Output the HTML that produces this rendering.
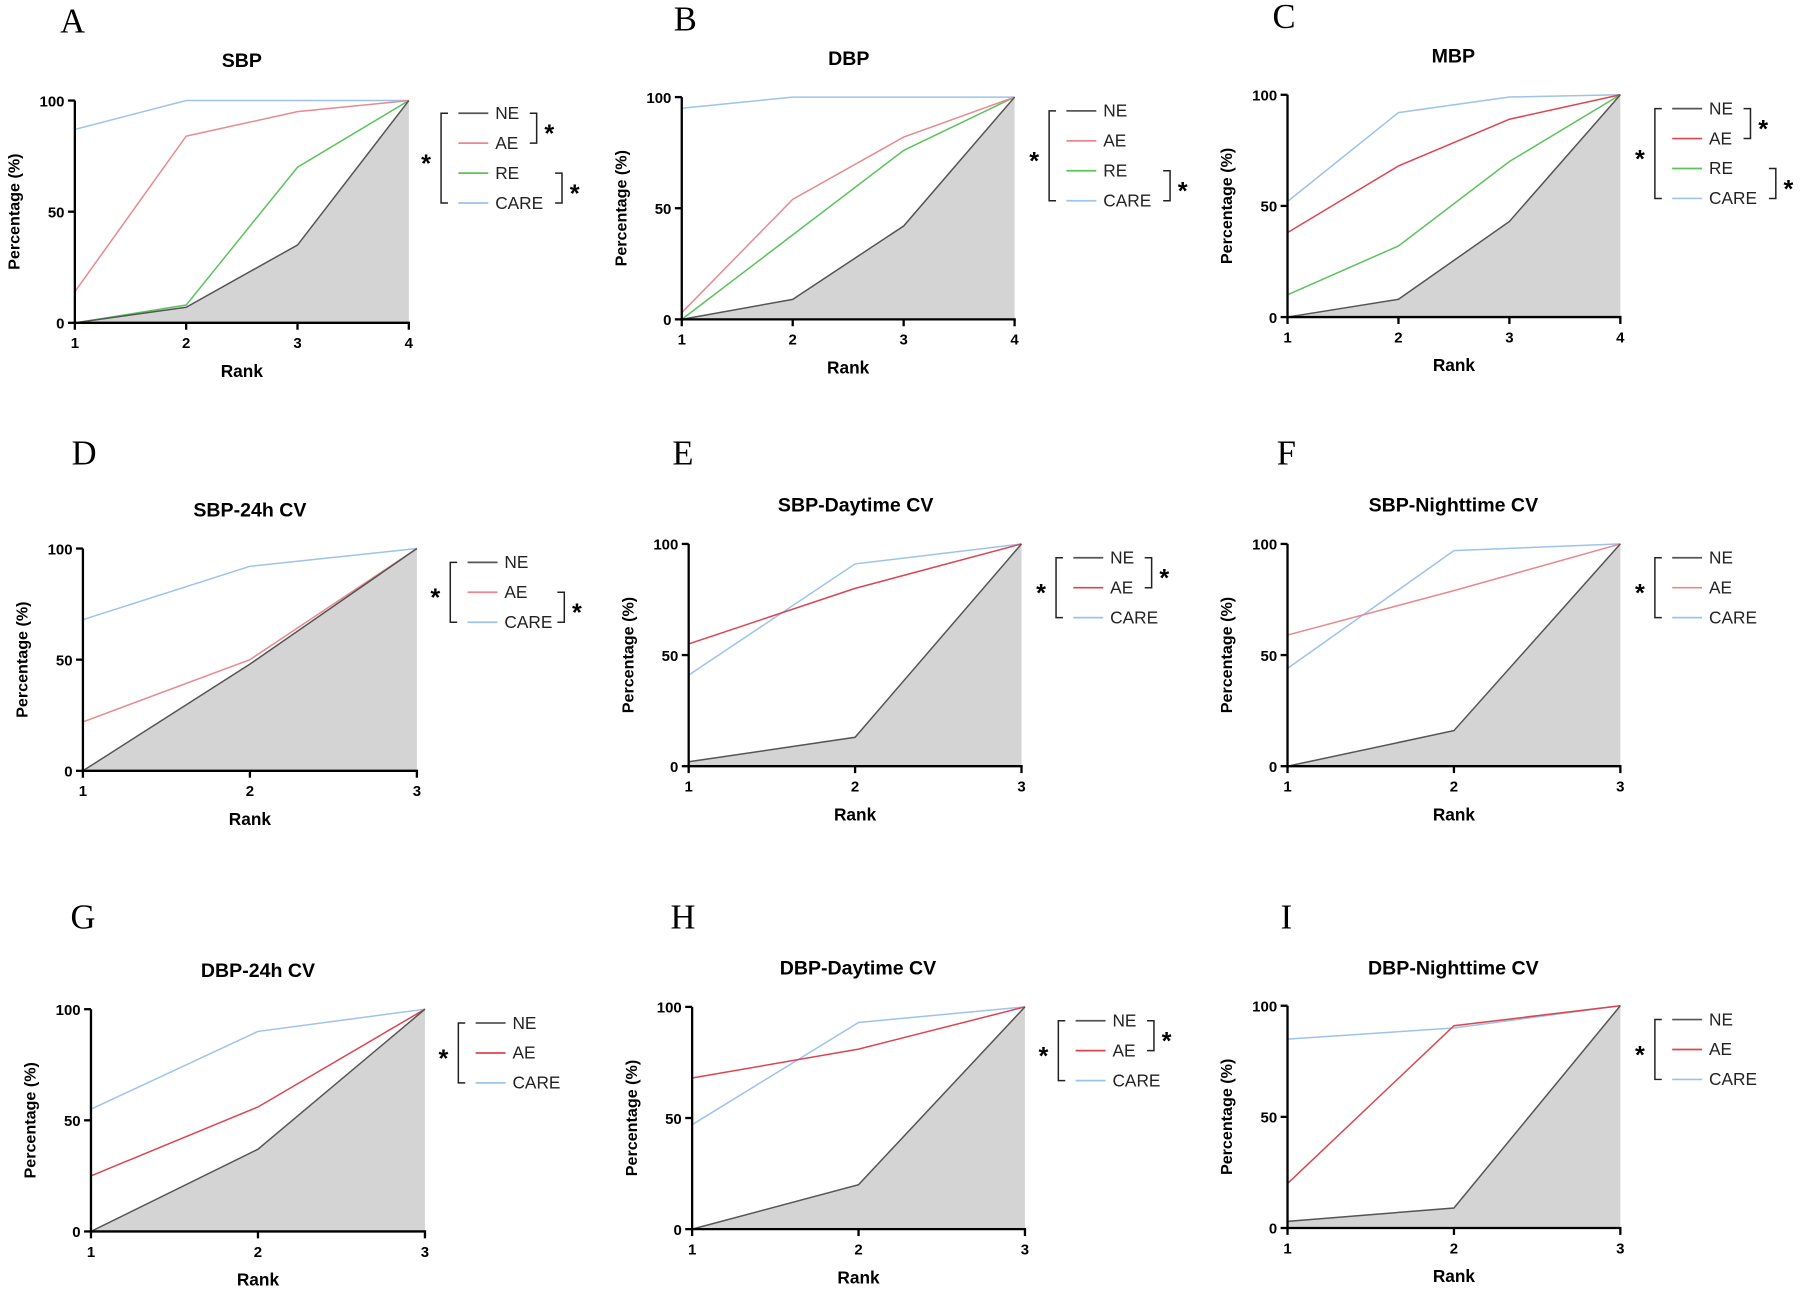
<!DOCTYPE html>
<html><head><meta charset="utf-8"><style>
html,body{margin:0;padding:0;background:#fff;}
svg{display:block;}
</style></head><body>
<svg id="s" width="1800" height="1294" viewBox="0 0 1563 1123" xmlns="http://www.w3.org/2000/svg" font-family="Liberation Sans, sans-serif"></svg>
<script>
var P=[
{L:"A",t:"SBP",x0:65,x1:355,y0:280,y1:87,lx:63,ly:18,tx:210,ty:52,gx:430,gy:98,
 s:[["NE",[0,7,35,100]],["AE",[14,84,95,100]],["RE",[0,8,70,100]],["CARE",[87,100,100,100]]],br:[[0,1],[2,3]],c:0},
{L:"B",t:"DBP",x0:592,x1:881,y0:277,y1:84,lx:595,ly:16,tx:737,ty:50,gx:958,gy:96,
 s:[["NE",[0,9,42,100]],["AE",[3,54,82,100]],["RE",[0,38,76,100]],["CARE",[95,100,100,100]]],br:[[2,3]],c:0},
{L:"C",t:"MBP",x0:1118,x1:1407,y0:275,y1:82,lx:1115,ly:14,tx:1262,ty:48,gx:1484,gy:94,
 s:[["NE",[0,8,43,100]],["AE",[38,68,89,100]],["RE",[10,32,70,100]],["CARE",[52,92,99,100]]],br:[[0,1],[2,3]],c:1},
{L:"D",t:"SBP-24h CV",x0:72,x1:362,y0:669,y1:476,lx:73,ly:393,tx:217,ty:442,gx:438,gy:488,
 s:[["NE",[0,48,100]],["AE",[22,50,100]],["CARE",[68,92,100]]],br:[[1,2]],c:0},
{L:"E",t:"SBP-Daytime CV",x0:598,x1:887,y0:665,y1:472,lx:593,ly:393,tx:743,ty:438,gx:964,gy:484,
 s:[["NE",[2,13,100]],["AE",[55,80,100]],["CARE",[41,91,100]]],br:[[0,1]],c:1},
{L:"F",t:"SBP-Nighttime CV",x0:1118,x1:1407,y0:665,y1:472,lx:1117,ly:393,tx:1262,ty:438,gx:1484,gy:484,
 s:[["NE",[0,16,100]],["AE",[59,79,100]],["CARE",[44,97,100]]],br:[],c:0},
{L:"G",t:"DBP-24h CV",x0:79,x1:369,y0:1069,y1:876,lx:72,ly:796,tx:224,ty:842,gx:445,gy:888,
 s:[["NE",[0,37,100]],["AE",[25,56,100]],["CARE",[55,90,100]]],br:[],c:1},
{L:"H",t:"DBP-Daytime CV",x0:601,x1:890,y0:1067,y1:874,lx:593,ly:796,tx:745,ty:840,gx:966,gy:886,
 s:[["NE",[0,20,100]],["AE",[68,81,100]],["CARE",[47,93,100]]],br:[[0,1]],c:1},
{L:"I",t:"DBP-Nighttime CV",x0:1118,x1:1407,y0:1066,y1:873,lx:1117,ly:796,tx:1262,ty:840,gx:1484,gy:885,
 s:[["NE",[3,9,100]],["AE",[20,91,100]],["CARE",[85,90,100]]],br:[],c:1}
];
var col={NE:"#555",RE:"#5cc25c",CARE:"#9dc3ea"};
var h="";
P.forEach(function(p){
 var n=p.s[0][1].length;
 function X(i){return p.x0+(p.x1-p.x0)*i/(n-1);}
 function Y(v){return p.y0+(p.y1-p.y0)*v/100;}
 var ae=p.c?"#dc4550":"#e98890";
 h+='<text x="'+p.lx+'" y="'+(p.ly+10)+'" font-family="Liberation Serif, serif" font-size="30" text-anchor="middle">'+p.L+'</text>';
 h+='<text x="'+p.tx+'" y="'+(p.ty+6)+'" font-size="17" font-weight="bold" text-anchor="middle">'+p.t+'</text>';
 // fill NE
 var ne=p.s[0][1],d="M"+X(0)+","+p.y0;
 ne.forEach(function(v,i){d+=" L"+X(i)+","+Y(v);});
 d+=" L"+X(n-1)+","+p.y0+"Z";
 h+='<path d="'+d+'" fill="#d4d4d4"/>';
 for(var k=p.s.length-1;k>=0;k--){
  var nm=p.s[k][0],c=nm=="AE"?ae:col[nm];
  var pts=p.s[k][1].map(function(v,i){return X(i)+","+Y(v);}).join(" ");
  h+='<polyline points="'+pts+'" fill="none" stroke="'+c+'" stroke-width="1.3"/>';
 }
 // axes
 h+='<line x1="'+p.x0+'" y1="'+(p.y1)+'" x2="'+p.x0+'" y2="'+(p.y0+1)+'" stroke="#000" stroke-width="2"/>';
 h+='<line x1="'+(p.x0-1)+'" y1="'+p.y0+'" x2="'+(p.x1+1)+'" y2="'+p.y0+'" stroke="#000" stroke-width="2"/>';
 [0,50,100].forEach(function(v){var y=Y(v);
  h+='<line x1="'+(p.x0-6)+'" y1="'+y+'" x2="'+p.x0+'" y2="'+y+'" stroke="#000" stroke-width="2"/>';
  h+='<text x="'+(p.x0-9)+'" y="'+(y+5)+'" font-size="13" font-weight="bold" text-anchor="end">'+v+'</text>';});
 for(var i=0;i<n;i++){var x=X(i);
  h+='<line x1="'+x+'" y1="'+p.y0+'" x2="'+x+'" y2="'+(p.y0+6)+'" stroke="#000" stroke-width="2"/>';
  h+='<text x="'+x+'" y="'+(p.y0+22)+'" font-size="13" font-weight="bold" text-anchor="middle">'+(i+1)+'</text>';}
 h+='<text x="'+((p.x0+p.x1)/2)+'" y="'+(p.y0+47)+'" font-size="15" font-weight="bold" text-anchor="middle">Rank</text>';
 var cy=(p.y0+p.y1)/2;
 h+='<text transform="translate('+(p.x0-48)+','+cy+') rotate(-90)" font-size="14" font-weight="bold" text-anchor="middle">Percentage (%)</text>';
 // legend
 var ys=[];
 p.s.forEach(function(s,k){var y=p.gy+26*k;ys.push(y);var nm=s[0],c=nm=="AE"?ae:col[nm];
  h+='<line x1="'+(p.gx-32)+'" y1="'+y+'" x2="'+(p.gx-6)+'" y2="'+y+'" stroke="'+c+'" stroke-width="1.5"/>';
  h+='<text x="'+p.gx+'" y="'+(y+5)+'" font-size="15" fill="#222">'+nm+'</text>';});
 var bx=p.gx-47,ya=ys[0],yb=ys[ys.length-1];
 h+='<path d="M'+(bx+6)+','+ya+' H'+bx+' V'+yb+' H'+(bx+6)+'" fill="none" stroke="#222" stroke-width="1.3"/>';
 h+='<text x="'+(bx-13)+'" y="'+((ya+yb)/2+12)+'" font-size="22" font-weight="bold" text-anchor="middle">*</text>';
 p.br.forEach(function(b){
  var rx=p.gx+(b[1]==1?36:(p.s.length==4?58:52));
  var y1=ys[b[0]],y2=ys[b[1]];
  h+='<path d="M'+(rx-6)+','+y1+' H'+rx+' V'+y2+' H'+(rx-6)+'" fill="none" stroke="#222" stroke-width="1.3"/>';
  h+='<text x="'+(rx+11)+'" y="'+((y1+y2)/2+12)+'" font-size="22" font-weight="bold" text-anchor="middle">*</text>';
 });
});
document.getElementById("s").innerHTML=h;
</script>
</body></html>
